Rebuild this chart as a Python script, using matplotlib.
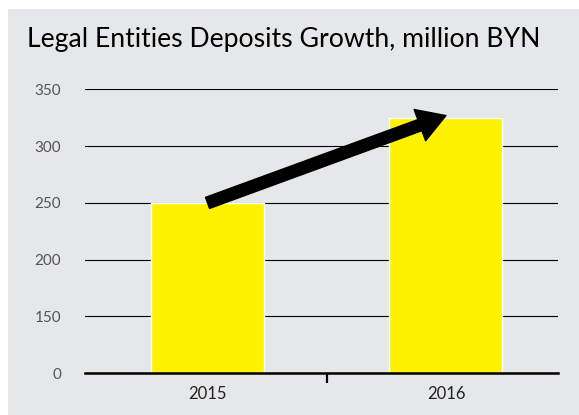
import matplotlib
matplotlib.use("Agg")
import matplotlib.pyplot as plt
import numpy as np
from matplotlib.patches import Rectangle

categories = ["2015", "2016"]
values = [250, 325]
ytick_values = [0, 150, 200, 250, 300, 350]
title = "Legal Entities Deposits Growth, million BYN"

BG = "#e6e7e9"
YELLOW = "#fff200"

# broken axis: 0..150 compressed into one tick interval
def fwd(v):
    v = np.asarray(v, dtype=float)
    return np.where(v >= 150, v, 100 + v / 3.0)

def inv(y):
    y = np.asarray(y, dtype=float)
    return np.where(y >= 150, y, (y - 100) * 3.0)

fig = plt.figure(figsize=(5.79, 4.15), dpi=100)
fig.patch.set_facecolor("white")
fig.patches.append(Rectangle((8 / 579, 0), 1, (415 - 9) / 415, transform=fig.transFigure,
                             facecolor=BG, edgecolor="none", zorder=-5))

ax = fig.add_axes([85 / 579, 1 - 373 / 415, (558 - 85) / 579, (373 - 89.5) / 415])
ax.set_zorder(2)
ax.set_facecolor("none")
ax.set_yscale("function", functions=(fwd, inv))
x = np.arange(len(categories))
ax.bar(x, values, width=0.474, color=YELLOW, edgecolor="white", linewidth=1.0, zorder=2)

ax.set_xlim(-0.514, 1.47)
ax.set_ylim(0, 350)
ax.set_yticks(ytick_values)
ax.set_yticklabels([str(v) for v in ytick_values])
ax.yaxis.grid(True, color="black", linewidth=0.8, zorder=1)
ax.set_axisbelow(True)

ax.set_xticks(x)
ax.set_xticklabels(categories)
ax.set_xticks([0.5], minor=True)
ax.tick_params(axis="x", which="major", length=0, pad=9, labelsize=12, labelcolor="#222222")
ax.tick_params(axis="x", which="minor", length=7, width=1.6, color="black")
ax.tick_params(axis="y", length=0, pad=17, labelsize=11, labelcolor="#555555")
for lab in ax.get_xticklabels() + ax.get_yticklabels():
    lab.set_family("Lato")

for s in ["top", "right", "left"]:
    ax.spines[s].set_visible(False)
ax.spines["bottom"].set_linewidth(1.8)
ax.spines["bottom"].set_color("black")
ax.spines["bottom"].set_zorder(3)

ax.annotate("", xy=(1.0, values[1] + 2), xytext=(0.0, values[0]),
            arrowprops=dict(facecolor="black", edgecolor="black", width=8.5,
                            headwidth=24, headlength=20, shrink=0),
            zorder=4)

fig.text(27 / 579, 1 - 40 / 415, title, fontsize=19.2, family="Lato", color="black",
         ha="left", va="center")

fig.savefig("out.png", dpi=100)
